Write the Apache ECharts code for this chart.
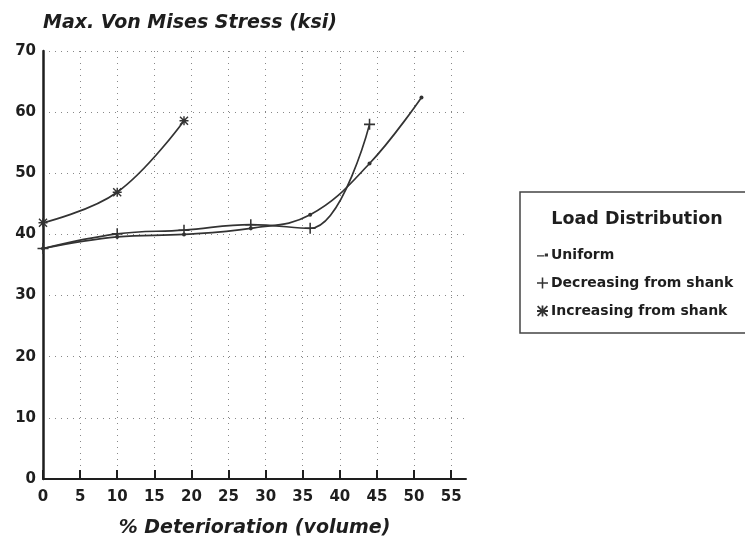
<!DOCTYPE html>
<html>
<head>
<meta charset="utf-8">
<script src="https://cdn.jsdelivr.net/npm/echarts@6/dist/echarts.min.js"></script>
<style>html,body{margin:0;padding:0;background:#fff;}#c{width:745px;height:547px;}</style>
</head>
<body>
<div id="c"></div>
<script>
// Data
var seriesNames = ['Uniform', 'Decreasing from shank', 'Increasing from shank'];
var uniformData = [[0, 37.7], [10, 39.6], [19, 40.0], [28, 41.0], [36, 43.2], [44, 51.6], [51, 62.4]];
var decreasingData = [[0, 37.7], [10, 40.1], [19, 40.7], [28, 41.6], [36, 41.0], [44, 58.0]];
var increasingData = [[0, 41.9], [10, 46.9], [19, 58.6]];
var xTickValues = [0, 5, 10, 15, 20, 25, 30, 35, 40, 45, 50, 55];
var yTickValues = [0, 10, 20, 30, 40, 50, 60, 70];

var FONT = '"DejaVu Sans", "Liberation Sans", Arial, sans-serif';
var INK = '#1e1e1e';
var plusPath = 'path://M4.3,0h1.4v10h-1.4z M0,4.3h10v1.4h-10z';
var starPath = 'path://M4.2,0h1.6v10h-1.6z M0,4.2h10v1.6h-10z M1.1,0L10,8.9L8.9,10L0,1.1z M8.9,0L10,1.1L1.1,10L0,8.9z';
var dotLinePath = 'path://M0,4.4h7v1.2h-7z M7.5,2.5h3v3h-3z';

var chart = echarts.init(document.getElementById('c'), null, {renderer: 'canvas'});
var option = {
  backgroundColor: '#fff',
  animation: false,
  title: {
    text: 'Max. Von Mises Stress (ksi)',
    left: 38, top: 9,
    textStyle: {fontFamily: FONT, fontSize: 19, fontWeight: 'bold', fontStyle: 'italic', color: INK}
  },
  grid: {left: 43, right: 279, top: 51, bottom: 68, containLabel: false},
  xAxis: {
    type: 'value', min: 0, max: 57, interval: 5,
    name: '% Deterioration (volume)', nameLocation: 'middle', nameGap: 40,
    nameTextStyle: {fontFamily: FONT, fontSize: 19, fontWeight: 'bold', fontStyle: 'italic', color: INK},
    axisLine: {show: true, lineStyle: {color: INK, width: 2}},
    axisTick: {show: true, inside: true, length: 9, customValues: xTickValues, lineStyle: {color: INK, width: 2}},
    axisLabel: {customValues: xTickValues, margin: 11, fontFamily: FONT, fontSize: 15, fontWeight: 'bold', color: INK},
    splitLine: {show: true, lineStyle: {color: '#888', width: 1, type: [1, 5]}}
  },
  yAxis: {
    type: 'value', min: 0, max: 70, interval: 10,
    axisLine: {show: true, lineStyle: {color: INK, width: 2.5}},
    axisTick: {show: false},
    axisLabel: {customValues: yTickValues, margin: 7, fontFamily: FONT, fontSize: 15, fontWeight: 'bold', color: INK},
    splitLine: {show: true, lineStyle: {color: '#888', width: 1, type: [1, 5]}}
  },
  legend: {
    orient: 'vertical', left: 532, top: 243,
    itemWidth: 11, itemHeight: 11, itemGap: 14,
    textStyle: {fontFamily: FONT, fontSize: 14, fontWeight: 'bold', color: INK, padding: [0, 0, 0, -2]},
    data: [
      {name: seriesNames[0], icon: dotLinePath},
      {name: seriesNames[1], icon: plusPath},
      {name: seriesNames[2], icon: starPath}
    ]
  },
  graphic: [
    {type: 'rect', shape: {x: 520, y: 192, width: 240, height: 141}, style: {fill: 'none', stroke: '#444', lineWidth: 1.5}, z: 1},
    {type: 'text', x: 637, y: 219, style: {text: 'Load Distribution', font: 'bold 17.5px ' + FONT, fill: INK, textAlign: 'center', textVerticalAlign: 'middle'}}
  ],
  series: [
    {
      name: seriesNames[0], type: 'line', data: uniformData, smooth: 0.4,
      symbol: 'circle', symbolSize: 4,
      lineStyle: {color: '#333', width: 1.7}, itemStyle: {color: '#333'}
    },
    {
      name: seriesNames[1], type: 'line', data: decreasingData, smooth: 0.4,
      symbol: plusPath, symbolSize: 11,
      lineStyle: {color: '#333', width: 1.7}, itemStyle: {color: '#333'}
    },
    {
      name: seriesNames[2], type: 'line', data: increasingData, smooth: 0.4,
      symbol: starPath, symbolSize: 9,
      lineStyle: {color: '#333', width: 1.7}, itemStyle: {color: '#333'}
    }
  ]
};
chart.setOption(option);
</script>
</body>
</html>
